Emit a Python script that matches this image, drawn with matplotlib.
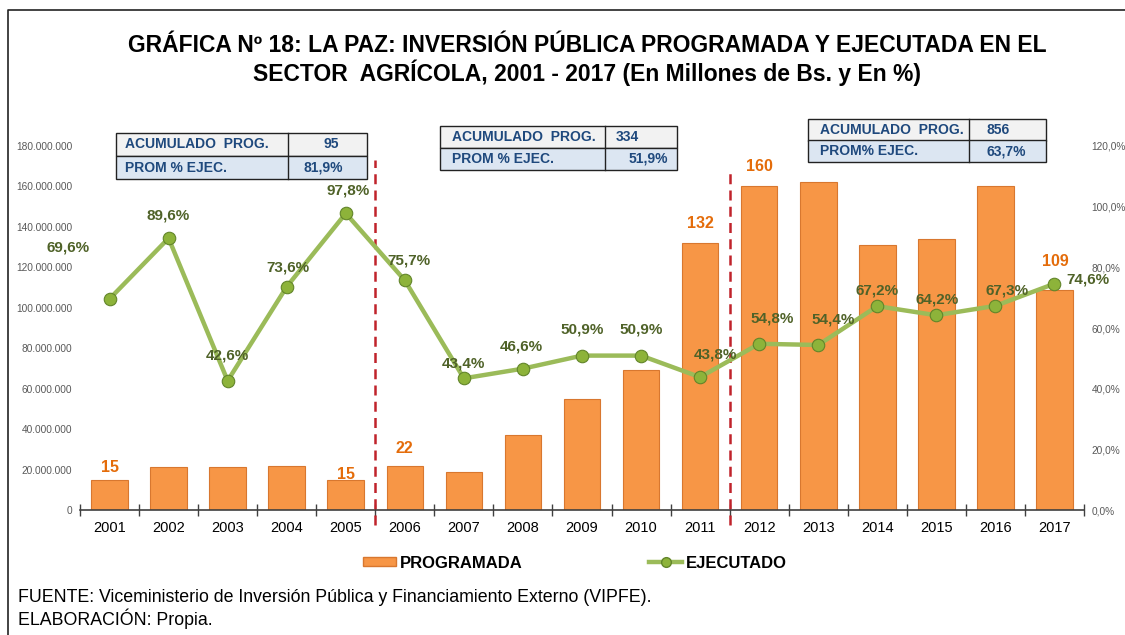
import matplotlib
matplotlib.use("Agg")
import matplotlib.pyplot as plt
from matplotlib.patches import Patch, Rectangle
from matplotlib.lines import Line2D

plt.rcParams["font.family"] = ["Liberation Sans", "DejaVu Sans"]

years = [str(y) for y in range(2001, 2018)]
programada = [15, 21.5, 21.5, 22, 15, 22, 19, 37, 55, 69, 132,
              160, 162, 131, 134, 160, 109]  # millones de Bs.
ejecutado = [69.6, 89.6, 42.6, 73.6, 97.8, 75.7, 43.4, 46.6, 50.9, 50.9,
             43.8, 54.8, 54.4, 67.2, 64.2, 67.3, 74.6]  # %
bar_labels = {0: "15", 4: "15", 5: "22", 10: "132", 11: "160", 16: "109"}
periods = [
    ("ACUMULADO  PROG.", "95", "PROM % EJEC.", "81,9%"),
    ("ACUMULADO  PROG.", "334", "PROM % EJEC.", "51,9%"),
    ("ACUMULADO  PROG.", "856", "PROM% EJEC.", "63,7%"),
]

W, H = 1125, 635
BAR = "#F79646"
LINE = "#9BBB59"
LBL_G = "#4F6228"
LBL_O = "#E46C0A"
BLUE = "#1F497D"


def fx(px):
    return px / W


def fy(py):
    return 1 - py / H


fig = plt.figure(figsize=(11.25, 6.35), dpi=100)
ax = fig.add_axes([fx(80), fy(510), fx(1084) - fx(80), fy(146) - fy(510)])
x = list(range(len(years)))
vals = [v * 1e6 for v in programada]
ax.bar(x, vals, width=0.62, color=BAR, edgecolor="#D8772F", linewidth=0.8, zorder=2)
ax.set_xlim(-0.5, 16.5)
ax.set_ylim(0, 180e6)
ax.set_yticks([i * 20e6 for i in range(10)])
ax.set_yticklabels(["0"] + [f"{i * 20:d}.000.000" for i in range(1, 10)],
                   fontsize=7.3, color="#595959")
ax.set_xticks(x)
ax.set_xticklabels(years, fontsize=10.5)
ax.set_xticks([i - 0.5 for i in range(18)], minor=True)
ax.tick_params(axis="x", which="major", length=0, pad=8)
ax.tick_params(axis="x", which="minor", length=8, direction="inout", width=1, color="#404040")
ax.tick_params(axis="y", length=0, pad=5.5)
for s in ["top", "left", "right"]:
    ax.spines[s].set_visible(False)
ax.spines["bottom"].set_color("#404040")
ax.spines["bottom"].set_linewidth(1.2)

for i, t in bar_labels.items():
    off = {0: 9, 4: 4, 5: 12.5, 10: 14, 11: 14.5, 16: 20}[i]
    ax.annotate(t, (i, vals[i]), xytext=(1 if i == 16 else 0, off), textcoords="offset points",
                ha="center", va="center", fontsize=11.5, fontweight="bold", color=LBL_O, zorder=5)

for xd, top in [(4.5, 0.962), (10.5, 0.934)]:
    ax.axvline(xd, ymin=-0.041, ymax=top, color="#C0232B", lw=1.8, ls=(0, (4, 2.5)),
               clip_on=False, zorder=3)

ax2 = ax.twinx()
ax2.set_ylim(0, 1.2)
ax2.set_yticks([i * 0.2 for i in range(7)])
ax2.set_yticklabels([f"{i * 20},0%" for i in range(7)], fontsize=7.3, color="#595959")
ax2.tick_params(axis="y", length=0, pad=5.5)
for s in ["top", "left", "right", "bottom"]:
    ax2.spines[s].set_visible(False)
pct = [v / 100 for v in ejecutado]
ax2.plot(x, pct, color=LINE, lw=3.2, zorder=4, solid_capstyle="round")
ax2.plot(x, pct, ls="none", marker="o", ms=9, mfc="#8DB33A", mec="#62852A", mew=0.8, zorder=5)

offs = [(-29.5, 36.7), (0, 16), (0, 18), (0.7, 14), (2, 16.5), (3, 14.4), (0, 11),
        (-1.4, 16), (0, 19), (0, 19), (11, 16.5), (9.4, 18), (11, 18), (0, 11),
        (0.7, 11), (8.6, 11), (24, 3)]
for i, v in enumerate(ejecutado):
    ax2.annotate(f"{v:.1f}%".replace(".", ","), (i, pct[i]), xytext=offs[i],
                 textcoords="offset points", ha="center", va="center", fontsize=11,
                 fontweight="bold", color=LBL_G, zorder=7, annotation_clip=False)

# summary tables
tables = [(116, 367, 133, 179, 288, 125, (331, 323)),
          (440, 677, 126, 170, 605, 452, (627, 648)),
          (808, 1046, 119, 162, 969, 820, (998, 1006))]
for (l, r, t, b, sp, tx, vx), (a1, v1, a2, v2) in zip(tables, periods):
    m = (t + b) / 2
    fig.patches.append(Rectangle((fx(l), fy(m)), fx(r - l), fy(t) - fy(m), transform=fig.transFigure,
                                 facecolor="#F2F2F2", edgecolor="#222222", lw=1, zorder=8))
    fig.patches.append(Rectangle((fx(l), fy(b)), fx(r - l), fy(m) - fy(b), transform=fig.transFigure,
                                 facecolor="#DCE6F2", edgecolor="#222222", lw=1, zorder=8))
    fig.add_artist(Line2D([fx(sp), fx(sp)], [fy(t), fy(b)], color="#222222", lw=1, zorder=9))
    for row, (lab, val) in enumerate([(a1, v1), (a2, v2)]):
        yc = fy(t + (row + 0.5) * (b - t) / 2)
        fig.text(fx(tx), yc, lab, ha="left", va="center", fontsize=10, fontweight="bold",
                 color=BLUE, zorder=10)
        fig.text(fx(vx[row]), yc, val, ha="center", va="center", fontsize=10,
                 fontweight="bold", color=BLUE, zorder=10)

fig.text(0.522, fy(45), "GRÁFICA Nº 18: LA PAZ: INVERSIÓN PÚBLICA PROGRAMADA Y EJECUTADA EN EL",
         ha="center", va="center", fontsize=16.5, fontweight="bold")
fig.text(0.522, fy(73), "SECTOR  AGRÍCOLA, 2001 - 2017 (En Millones de Bs. y En %)",
         ha="center", va="center", fontsize=16.5, fontweight="bold")

handles = [Patch(facecolor=BAR, edgecolor="#D8772F", label="PROGRAMADA"),
           Line2D([], [], color=LINE, lw=3.2, marker="o", ms=7, mfc="#8DB33A", mec="#62852A",
                  label="EJECUTADO")]
fig.legend(handles=handles, loc="center left", bbox_to_anchor=(fx(348), fy(563)), ncol=2,
           frameon=False, handlelength=2.0, handleheight=0.5, handletextpad=0.2,
           columnspacing=7.6, prop={"size": 12, "weight": "bold"})

fig.text(fx(18), fy(597), "FUENTE: Viceministerio de Inversión Pública y Financiamiento Externo (VIPFE).",
         ha="left", va="center", fontsize=12.8)
fig.text(fx(18), fy(619), "ELABORACIÓN: Propia.", ha="left", va="center", fontsize=12.8)

# outer frame
fig.add_artist(Line2D([fx(8), fx(8), 1.0], [0.0, fy(10), fy(10)], color="#222222", lw=1.2))

fig.savefig("out.png", dpi=100)
